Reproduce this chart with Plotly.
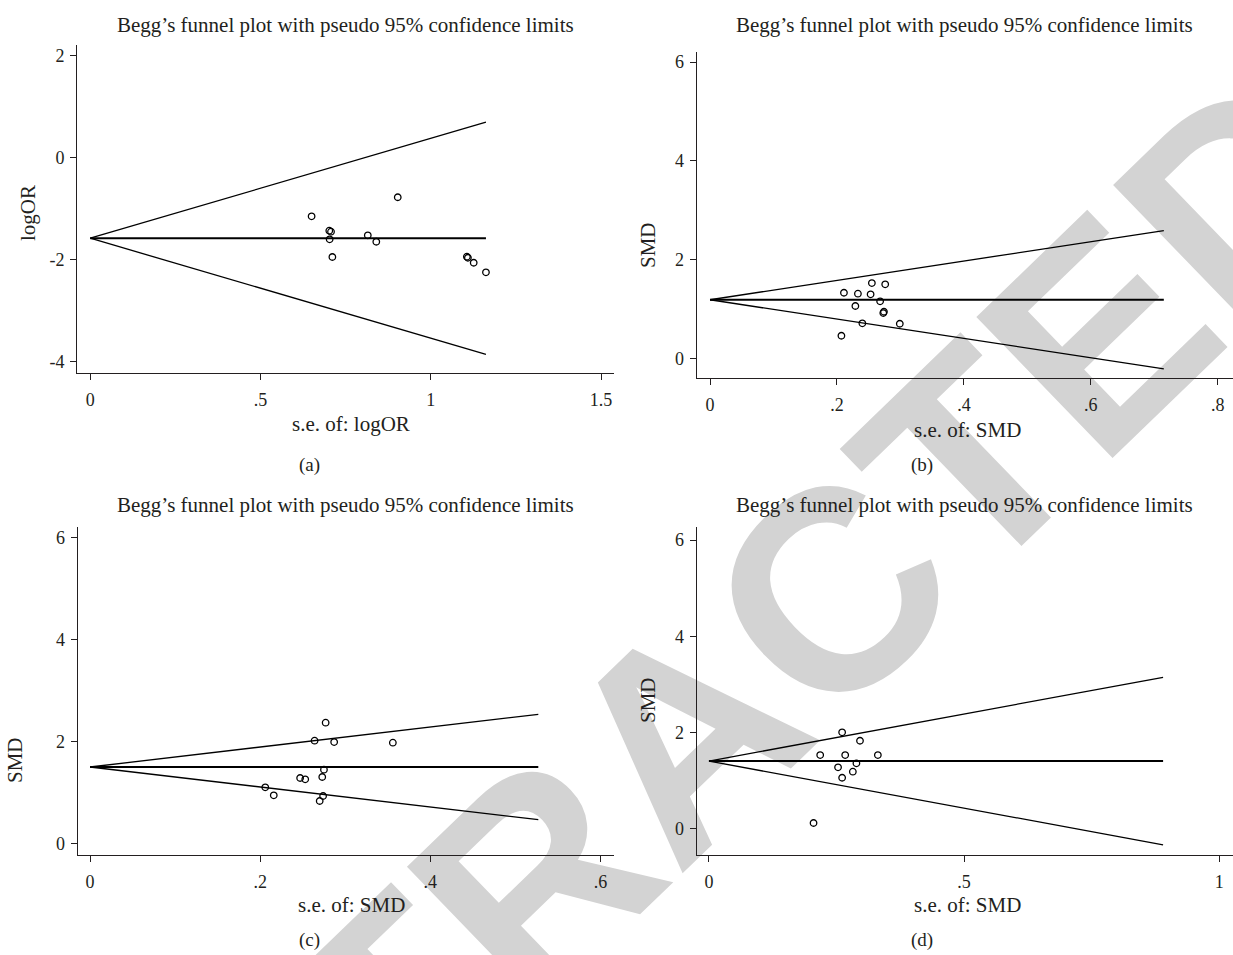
import math
import plotly.graph_objects as go

W, H = 1233, 955

# ---------------- data ----------------
se_a = [0.650, 0.903, 0.702, 0.707, 0.703, 0.711, 0.815, 0.840, 1.106, 1.109, 1.126, 1.162]
logor_a = [-1.150, -0.777, -1.433, -1.452, -1.602, -1.949, -1.523, -1.649, -1.943, -1.963, -2.061, -2.249]
center_a = -1.58
semax_a = 1.162

se_b = [0.255, 0.276, 0.211, 0.233, 0.253, 0.268, 0.229, 0.274, 0.273, 0.240, 0.299, 0.207]
smd_b = [1.524, 1.498, 1.328, 1.308, 1.296, 1.154, 1.059, 0.943, 0.917, 0.709, 0.700, 0.457]
center_b = 1.186
semax_b = 0.715

se_c = [0.277, 0.264, 0.287, 0.356, 0.275, 0.247, 0.253, 0.273, 0.206, 0.216, 0.274, 0.270]
smd_c = [2.365, 2.012, 1.986, 1.973, 1.443, 1.280, 1.255, 1.300, 1.098, 0.941, 0.927, 0.829]
center_c = 1.496
semax_c = 0.527

se_d = [0.261, 0.296, 0.218, 0.267, 0.331, 0.289, 0.253, 0.282, 0.261, 0.205]
smd_d = [1.998, 1.823, 1.525, 1.525, 1.525, 1.353, 1.270, 1.178, 1.053, 0.110]
center_d = 1.40
semax_d = 0.89

z95 = 1.96

title_text = "Begg\u2019s funnel plot with pseudo 95% confidence limits"
panel_labels = ["(a)", "(b)", "(c)", "(d)"]
y_titles = ["logOR", "SMD", "SMD", "SMD"]
x_titles = ["s.e. of: logOR", "s.e. of: SMD", "s.e. of: SMD", "s.e. of: SMD"]

xtick_vals = [[0, 0.5, 1, 1.5], [0, 0.2, 0.4, 0.6, 0.8], [0, 0.2, 0.4, 0.6], [0, 0.5, 1]]
xtick_text = [["0", ".5", "1", "1.5"], ["0", ".2", ".4", ".6", ".8"], ["0", ".2", ".4", ".6"], ["0", ".5", "1"]]
ytick_vals = [[-4, -2, 0, 2], [0, 2, 4, 6], [0, 2, 4, 6], [0, 2, 4, 6]]
ytick_text = [["-4", "-2", "0", "2"], ["0", "2", "4", "6"], ["0", "2", "4", "6"], ["0", "2", "4", "6"]]

# ---------------- layout geometry (pixels) ----------------
px = lambda v: v / W
py = lambda v: 1 - v / H

panels = [
    dict(se=se_a, y=logor_a, c=center_a, m=semax_a,
         xdom=(77.3, 614), ydom=(45, 373.3), xr=(-0.038, 1.538), yr=(-4.23, 2.21),
         title=(345.5, 25), xt=(351, 424), yt=(28, 213), lab=(309, 465)),
    dict(se=se_b, y=smd_b, c=center_b, m=semax_b,
         xdom=(696.7, 1233), ydom=(51.7, 378.3), xr=(-0.021, 0.824), yr=(-0.405, 6.21),
         title=(964, 25), xt=(967, 430), yt=(648, 245), lab=(922, 465)),
    dict(se=se_c, y=smd_c, c=center_c, m=semax_c,
         xdom=(77.7, 614), ydom=(526.7, 855), xr=(-0.0145, 0.616), yr=(-0.23, 6.21),
         title=(345.5, 505), xt=(351, 905), yt=(15, 760), lab=(309, 940)),
    dict(se=se_d, y=smd_d, c=center_d, m=semax_d,
         xdom=(696.7, 1233), ydom=(526.7, 855), xr=(-0.024, 1.027), yr=(-0.556, 6.28),
         title=(964, 505), xt=(967, 905), yt=(648, 700), lab=(922, 940)),
]

SERIF = "Liberation Serif"
TXT = "#231f20"
fig = go.Figure()
annotations = []

for i, p in enumerate(panels):
    n = "" if i == 0 else str(i + 1)
    xa, ya = "x" + n, "y" + n
    c, m = p["c"], p["m"]
    fig.add_trace(go.Scatter(x=[0, m], y=[c, c + z95 * m], mode="lines",
                             line=dict(color="black", width=1.3), xaxis=xa, yaxis=ya, hoverinfo="skip"))
    fig.add_trace(go.Scatter(x=[0, m], y=[c, c - z95 * m], mode="lines",
                             line=dict(color="black", width=1.3), xaxis=xa, yaxis=ya, hoverinfo="skip"))
    fig.add_trace(go.Scatter(x=[0, m], y=[c, c], mode="lines",
                             line=dict(color="black", width=2), xaxis=xa, yaxis=ya, hoverinfo="skip"))
    fig.add_trace(go.Scatter(x=p["se"], y=p["y"], mode="markers",
                             marker=dict(symbol="circle-open", size=6.5, color="black", line=dict(width=1.3)),
                             xaxis=xa, yaxis=ya))

    axcommon = dict(showgrid=False, zeroline=False, showline=True, linecolor="#231f20", linewidth=1.3,
                    ticks="outside", ticklen=6, tickwidth=1.3, tickcolor="#231f20",
                    tickfont=dict(family=SERIF, size=18, color=TXT))
    fig.update_layout(**{
        "xaxis" + n: dict(domain=[px(p["xdom"][0]), px(p["xdom"][1])], range=list(p["xr"]),
                          anchor=ya, tickvals=xtick_vals[i], ticktext=xtick_text[i],
                          ticklabelstandoff=4, **axcommon),
        "yaxis" + n: dict(domain=[py(p["ydom"][1]), py(p["ydom"][0])], range=list(p["yr"]),
                          anchor=xa, tickvals=ytick_vals[i], ticktext=ytick_text[i],
                          ticklabelstandoff=2, **axcommon),
    })

    annotations.append(dict(text=title_text, x=px(p["title"][0]), y=py(p["title"][1]),
                            xref="paper", yref="paper", showarrow=False, xanchor="center", yanchor="middle",
                            font=dict(family=SERIF, size=21, color=TXT)))
    annotations.append(dict(text=x_titles[i], x=px(p["xt"][0]), y=py(p["xt"][1]),
                            xref="paper", yref="paper", showarrow=False, xanchor="center", yanchor="middle",
                            font=dict(family=SERIF, size=21, color=TXT)))
    annotations.append(dict(text=y_titles[i], x=px(p["yt"][0]), y=py(p["yt"][1]), textangle=-90,
                            xref="paper", yref="paper", showarrow=False, xanchor="center", yanchor="middle",
                            font=dict(family=SERIF, size=21, color=TXT)))
    annotations.append(dict(text=panel_labels[i], x=px(p["lab"][0]), y=py(p["lab"][1]),
                            xref="paper", yref="paper", showarrow=False, xanchor="center", yanchor="middle",
                            font=dict(family=SERIF, size=19, color=TXT)))

# watermark, drawn beneath the plots
wm_cx, wm_cy, wm_ang, wm_half = 664, 716, 44, 600
dx = wm_half * math.cos(math.radians(wm_ang))
dy = wm_half * math.sin(math.radians(wm_ang))
fig.add_shape(type="line", xref="paper", yref="paper", layer="below",
              x0=px(wm_cx - dx), y0=py(wm_cy + dy), x1=px(wm_cx + dx), y1=py(wm_cy - dy),
              line=dict(width=0.1, color="rgba(0,0,0,0)"),
              label=dict(text="RETRACTED", textposition="middle", yanchor="middle",
                         font=dict(family="Liberation Sans", size=285, color="#d3d3d3", weight="bold")))

fig.update_layout(width=W, height=H, margin=dict(l=0, r=0, t=0, b=0),
                  paper_bgcolor="white", plot_bgcolor="rgba(0,0,0,0)",
                  showlegend=False, annotations=annotations)

fig.write_html("out.html", config={"displayModeBar": False},
               post_script="document.body.style.margin='0px';document.body.style.overflow='hidden';")
